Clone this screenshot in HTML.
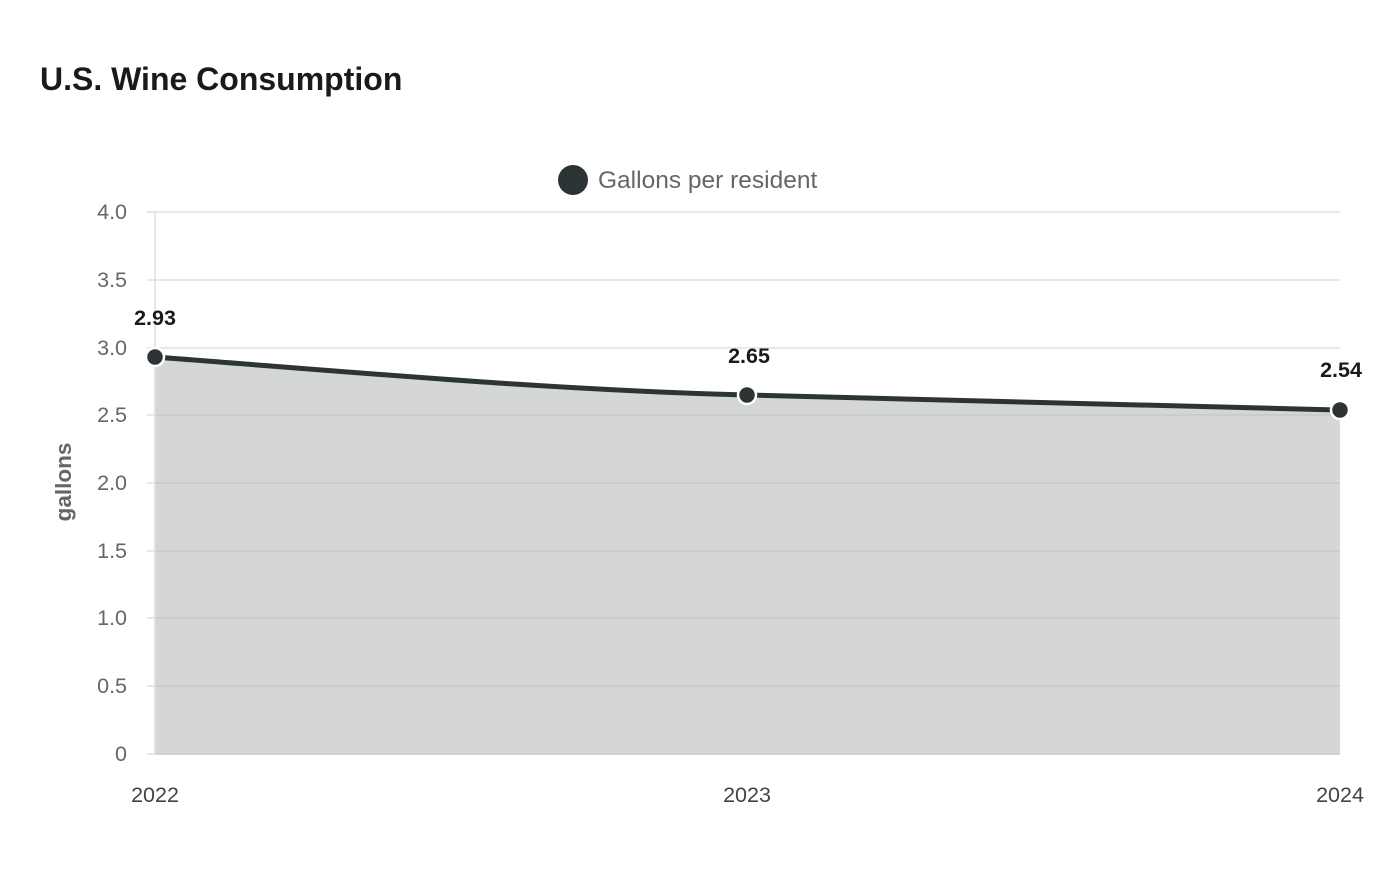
<!DOCTYPE html>
<html><head><meta charset="utf-8"><style>
body{margin:0;background:#fff;width:1400px;height:880px;overflow:hidden;font-family:"Liberation Sans",sans-serif}
</style></head><body>
<svg width="1400" height="880" xmlns="http://www.w3.org/2000/svg" font-family="Liberation Sans, sans-serif">
<text x="40" y="90" font-size="32" font-weight="bold" fill="#1a1a1a">U.S. Wine Consumption</text>
<circle cx="573" cy="180" r="15" fill="#2d3436"/>
<text x="598" y="188" font-size="24.5" fill="#666">Gallons per resident</text>
<path d="M155,357 C352,372 550,390 747,395 C944,401 1142,406 1340,410 L1340,754 L155,754 Z" fill="#d5d7d6"/>
<g stroke="#e0e0e0" stroke-width="1.5">
<line x1="155" x2="1340" y1="212" y2="212"/><line x1="155" x2="1340" y1="280" y2="280"/>
<line x1="155" x2="1340" y1="348" y2="348"/><line x1="155" x2="1340" y1="415" y2="415" stroke="#c8c8c8"/>
<line x1="155" x2="1340" y1="483" y2="483" stroke="#c8c8c8"/><line x1="155" x2="1340" y1="551" y2="551" stroke="#c8c8c8"/>
<line x1="155" x2="1340" y1="618" y2="618" stroke="#c8c8c8"/><line x1="155" x2="1340" y1="686" y2="686" stroke="#c8c8c8"/>
<line x1="155" x2="1340" y1="754" y2="754" stroke="#c8c8c8"/>
<line x1="155" x2="155" y1="212" y2="754" stroke="#ddd"/>
<line x1="147" x2="155" y1="212" y2="212"/><line x1="147" x2="155" y1="280" y2="280"/><line x1="147" x2="155" y1="348" y2="348"/>
<line x1="147" x2="155" y1="415" y2="415"/><line x1="147" x2="155" y1="483" y2="483"/><line x1="147" x2="155" y1="551" y2="551"/>
<line x1="147" x2="155" y1="618" y2="618"/><line x1="147" x2="155" y1="686" y2="686"/><line x1="147" x2="155" y1="754" y2="754"/>
</g>
<g font-size="21.5" fill="#666" text-anchor="end">
<text x="127" y="219">4.0</text><text x="127" y="287">3.5</text><text x="127" y="355">3.0</text>
<text x="127" y="422">2.5</text><text x="127" y="490">2.0</text><text x="127" y="558">1.5</text>
<text x="127" y="625">1.0</text><text x="127" y="693">0.5</text><text x="127" y="761">0</text>
</g>
<text transform="translate(71,482) rotate(-90)" font-size="22.5" font-weight="bold" fill="#666" text-anchor="middle">gallons</text>
<g font-size="21.5" fill="#444" text-anchor="middle">
<text x="155" y="802">2022</text><text x="747" y="802">2023</text><text x="1340" y="802">2024</text>
</g>
<path d="M155,357 C352,372 550,390 747,395 C944,401 1142,406 1340,410" fill="none" stroke="#2d3436" stroke-width="5"/>
<g fill="#2d3436" stroke="#fff" stroke-width="2.5">
<circle cx="155" cy="357" r="9"/><circle cx="747" cy="395" r="9"/><circle cx="1340" cy="410" r="9"/>
</g>
<g font-size="21.5" font-weight="bold" fill="#1a1a1a" text-anchor="middle">
<text x="155" y="325">2.93</text><text x="749" y="363">2.65</text><text x="1341" y="377">2.54</text>
</g>
</svg>
</body></html>
